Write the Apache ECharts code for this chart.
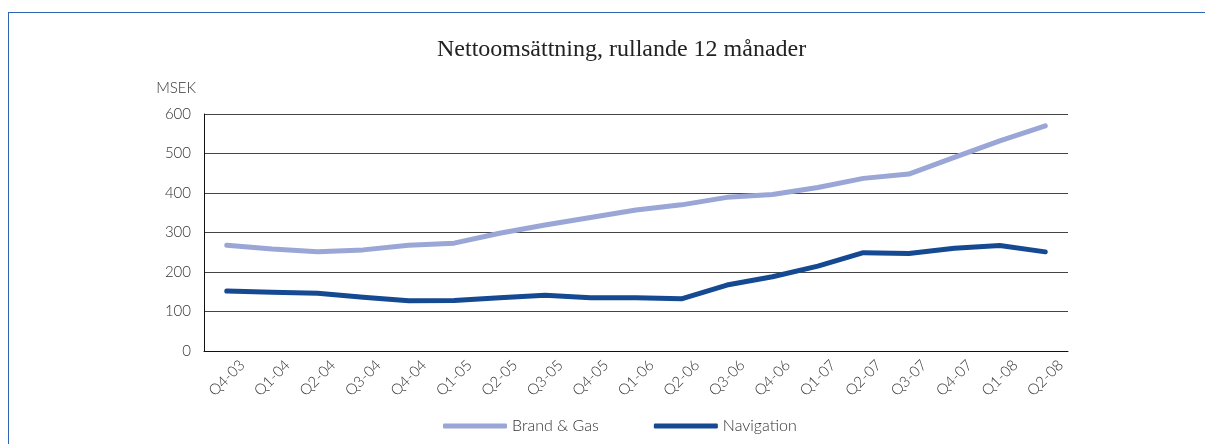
<!DOCTYPE html>
<html>
<head>
<meta charset="utf-8">
<script src="https://cdn.jsdelivr.net/npm/echarts@6/dist/echarts.min.js"></script>
<style>
html, body { margin: 0; padding: 0; background: #fff; }
#frame {
    position: absolute; left: 8px; top: 12px; width: 1196px; height: 440px;
    border-left: 1px solid #2f64b0; border-top: 1px solid #2f64b0;
}
#chart { position: absolute; left: 0; top: 0; width: 1206px; height: 444px; }
</style>
</head>
<body>
<div id="frame"></div>
<div id="chart"></div>
<script>
// kvartal
var quarters = ['Q4-03', 'Q1-04', 'Q2-04', 'Q3-04', 'Q4-04', 'Q1-05', 'Q2-05', 'Q3-05', 'Q4-05', 'Q1-06',
    'Q2-06', 'Q3-06', 'Q4-06', 'Q1-07', 'Q2-07', 'Q3-07', 'Q4-07', 'Q1-08', 'Q2-08'];
// MSEK, rullande 12 mån
var brandGas = [268, 258, 251, 256, 268, 273, 298, 319, 338, 357, 370, 389, 396, 414, 437, 448, 490, 532, 570];
var navigation = [152, 149, 146, 136, 127, 128, 135, 141, 135, 135, 132, 167, 188, 215, 249, 247, 260, 267, 251];
var yTicks = [0, 100, 200, 300, 400, 500, 600];

var chart = echarts.init(document.getElementById('chart'));
var labelFont = 'Lato, "Open Sans", sans-serif';

var option = {
    animation: false,
    title: {
        text: 'Nettoomsättning, rullande 12 månader',
        left: 432,
        top: 33,
        textStyle: { fontFamily: '"Liberation Serif", serif', fontSize: 24, fontWeight: 'normal', color: '#222' }
    },
    legend: {
        bottom: 5,
        left: 438,
        itemWidth: 64,
        itemHeight: 5,
        itemGap: 55,
        icon: 'roundRect',
        textStyle: { fontFamily: labelFont, fontSize: 16, fontWeight: 300, color: '#333' },
        data: ['Brand & Gas', 'Navigation']
    },
    grid: { left: 204, right: 138, top: 114, bottom: 93 },
    xAxis: {
        type: 'category',
        data: quarters,
        boundaryGap: true,
        axisLine: { show: true, lineStyle: { color: '#111', width: 1 } },
        axisTick: { show: false },
        axisLabel: {
            rotate: 45, interval: 0, margin: 27,
            align: 'center', verticalAlign: 'middle',
            fontFamily: labelFont, fontSize: 15, fontWeight: 300, color: '#333'
        }
    },
    yAxis: {
        type: 'value',
        name: 'MSEK',
        nameLocation: 'end',
        nameGap: 18,
        nameTextStyle: { fontFamily: labelFont, fontSize: 15, fontWeight: 300, color: '#333', align: 'right', padding: [0, 8, 0, 0] },
        min: yTicks[0],
        max: yTicks[yTicks.length - 1],
        interval: 100,
        axisLine: { show: true, lineStyle: { color: '#111', width: 1 } },
        axisTick: { show: false },
        axisLabel: { fontFamily: labelFont, fontSize: 15, fontWeight: 300, color: '#333', margin: 13 },
        splitLine: { show: true, lineStyle: { color: '#444', width: 1 } }
    },
    series: [
        {
            name: 'Brand & Gas',
            type: 'line',
            data: brandGas,
            symbol: 'none',
            lineStyle: { color: '#9aa6d6', width: 5, cap: 'round', join: 'round' },
            itemStyle: { color: '#9aa6d6' }
        },
        {
            name: 'Navigation',
            type: 'line',
            data: navigation,
            symbol: 'none',
            lineStyle: { color: '#154a93', width: 5, cap: 'round', join: 'round' },
            itemStyle: { color: '#154a93' }
        }
    ]
};
chart.setOption(option);
</script>
</body>
</html>
